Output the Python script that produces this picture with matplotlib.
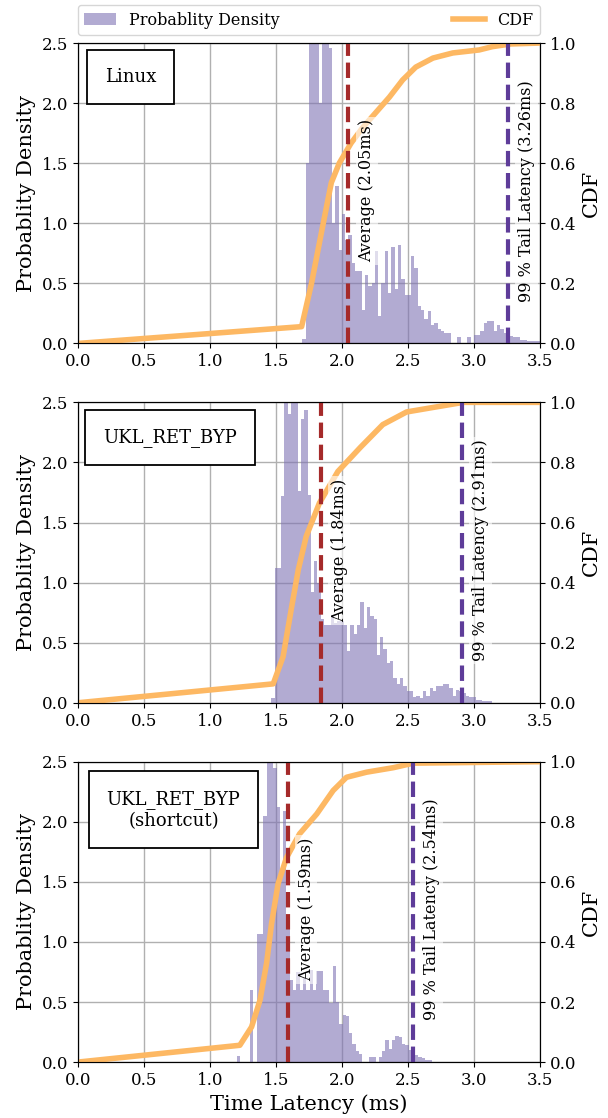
import numpy as np
import matplotlib.pyplot as plt

plt.rcParams['font.family'] = 'DejaVu Serif'

# histogram bins (width 0.025 ms), start of first bin per panel
bin_w = 0.025
linux_start = 1.70
linux_hist = [0.04, 1.5, 3.0, 2.9, 3.1, 2.0, 3.0, 2.7, 2.46, 1.0,
              1.31, 0.78, 1.08, 0.86, 0.9, 0.67, 0.6, 0.6, 0.28, 0.57,
              0.48, 0.5, 0.77, 0.23, 0.5, 0.77, 0.42, 0.8, 0.45, 0.82,
              0.54, 0.4, 0.4, 0.73, 0.63, 0.31, 0.28, 0.2, 0.27, 0.15,
              0.17, 0.12, 0.1, 0.09, 0.09, 0.0, 0.0, 0.05, 0.0, 0.0,
              0.05, 0.0, 0.07, 0.07, 0.1, 0.17, 0.19, 0.19, 0.1, 0.15,
              0.12, 0.09, 0.09, 0.06, 0.05, 0.05, 0.03, 0.03, 0.02, 0.02,
              0.02, 0.02]
ret_start = 1.465
ret_hist = [0.04, 1.12, 1.12, 1.72, 2.6, 2.4, 2.7, 2.7, 1.76, 2.36,
            2.44, 1.73, 0.92, 1.18, 1.0, 0.7, 0.65, 0.65, 0.73, 0.66,
            0.68, 0.68, 0.65, 0.43, 0.65, 0.57, 0.65, 0.84, 0.62, 0.8,
            0.72, 0.7, 0.4, 0.55, 0.45, 0.33, 0.35, 0.21, 0.16, 0.21,
            0.14, 0.1, 0.1, 0.05, 0.06, 0.04, 0.1, 0.06, 0.12, 0.1,
            0.14, 0.14, 0.16, 0.16, 0.12, 0.06, 0.11, 0.1, 0.08, 0.06,
            0.05, 0.05, 0.025, 0.025, 0.015, 0.015, 0.015]
short_start = 1.205
short_hist = [0.05, 0.0, 0.0, 0.0, 0.6, 0.0, 1.07, 1.07, 2.05, 2.8,
              2.7, 2.45, 2.12, 1.6, 2.09, 1.2, 0.68, 0.6, 0.75, 0.6,
              0.7, 0.6, 0.77, 0.6, 0.76, 0.76, 0.6, 0.6, 0.49, 0.8,
              0.5, 0.32, 0.39, 0.38, 0.24, 0.15, 0.09, 0.07, 0.0, 0.0,
              0.04, 0.04, 0.0, 0.04, 0.09, 0.18, 0.11, 0.18, 0.22, 0.21,
              0.15, 0.14, 0.1, 0.09, 0.06, 0.04, 0.03, 0.02, 0.02]

# CDF curves
linux_cdf_x = [0.0, 1.695, 1.77, 1.85, 1.92, 1.98, 2.07, 2.16, 2.26, 2.36,
               2.46, 2.56, 2.69, 2.84, 3.04, 3.14, 3.28, 3.5]
linux_cdf_y = [0.0, 0.056, 0.2, 0.38, 0.535, 0.6, 0.667, 0.72, 0.77, 0.82,
               0.877, 0.92, 0.95, 0.967, 0.977, 0.988, 0.997, 1.0]
ret_cdf_x = [0.0, 1.48, 1.555, 1.62, 1.67, 1.73, 1.83, 1.97, 2.14, 2.31,
             2.49, 2.69, 2.92, 3.5]
ret_cdf_y = [0.0, 0.063, 0.154, 0.32, 0.443, 0.554, 0.665, 0.77, 0.85, 0.926,
             0.968, 0.983, 1.0, 1.0]
short_cdf_x = [0.0, 1.227, 1.316, 1.38, 1.43, 1.467, 1.517, 1.58, 1.68, 1.81,
               1.934, 2.035, 2.187, 2.39, 2.54, 3.5]
short_cdf_y = [0.0, 0.056, 0.117, 0.206, 0.33, 0.46, 0.594, 0.68, 0.76, 0.826,
               0.904, 0.948, 0.965, 0.98, 0.995, 1.0]

names = ['Linux', 'UKL_RET_BYP', 'UKL_RET_BYP\n(shortcut)']
averages = [2.05, 1.84, 1.59]
tails = [3.26, 2.91, 2.54]
box_pos = [(0.114, 0.887), (0.2, 0.883), (0.207, 0.84)]

panels = [
    (linux_start, linux_hist, linux_cdf_x, linux_cdf_y),
    (ret_start, ret_hist, ret_cdf_x, ret_cdf_y),
    (short_start, short_hist, short_cdf_x, short_cdf_y),
]

hist_color = '#7f73b4'
cdf_color = '#fdb863'
avg_color = '#a52a2a'
tail_color = '#5e3c99'

fig, axes = plt.subplots(3, 1, figsize=(6.08, 11.18), dpi=100)
fig.subplots_adjust(left=0.128, right=0.888, top=0.9615, bottom=0.050, hspace=0.196)

for i, (ax, (start, hist, cx, cy)) in enumerate(zip(axes, panels)):
    edges = start + bin_w * np.arange(len(hist))
    bars = ax.bar(edges, hist, width=bin_w, align='edge', color=hist_color,
                  alpha=0.6, linewidth=0, label='Probablity Density')
    ax.set_xlim(0, 3.5)
    ax.set_ylim(0, 2.5)
    ax.set_xticks(np.arange(0, 3.51, 0.5))
    ax.set_yticks(np.arange(0, 2.51, 0.5))
    ax.grid(True, color='#b0b0b0', linewidth=1)
    ax.set_axisbelow(True)
    ax.tick_params(labelsize=12)
    ax.set_ylabel('Probablity Density', fontsize=15)

    ax2 = ax.twinx()
    line, = ax2.plot(cx, cy, color=cdf_color, linewidth=4, label='CDF')
    ax2.set_ylim(0, 1.0)
    ax2.set_yticks(np.arange(0, 1.01, 0.2))
    ax2.tick_params(labelsize=12)
    ax2.set_ylabel('CDF', fontsize=15)

    ax2.axvline(averages[i], color=avg_color, linestyle='--', linewidth=3)
    ax2.axvline(tails[i], color=tail_color, linestyle='--', linewidth=3)
    ax2.text(averages[i] + 0.14, 0.508, f'Average ({averages[i]:.2f}ms)',
             rotation=90, ha='center', va='center', fontsize=11.5,
             bbox=dict(facecolor='white', alpha=0.6, edgecolor='none', pad=2))
    ax2.text(tails[i] + 0.14, 0.508, f'99 % Tail Latency ({tails[i]:.2f}ms)',
             rotation=90, ha='center', va='center', fontsize=11.5,
             bbox=dict(facecolor='white', alpha=0.6, edgecolor='none', pad=2))
    ax2.text(box_pos[i][0], box_pos[i][1], names[i], transform=ax.transAxes,
             ha='center', va='center', fontsize=13, multialignment='center',
             bbox=dict(boxstyle='square,pad=1.0', facecolor='white', edgecolor='black', linewidth=1.3))

axes[-1].set_xlabel('Time Latency (ms)', fontsize=15)

fig.legend([bars, line], ['Probablity Density', 'CDF'], loc='lower left',
           bbox_to_anchor=(0.128, 0.9687, 0.76, 0.02), mode='expand', ncol=2,
           fontsize=11.5, borderaxespad=0)

fig.savefig('out.png', dpi=100)
